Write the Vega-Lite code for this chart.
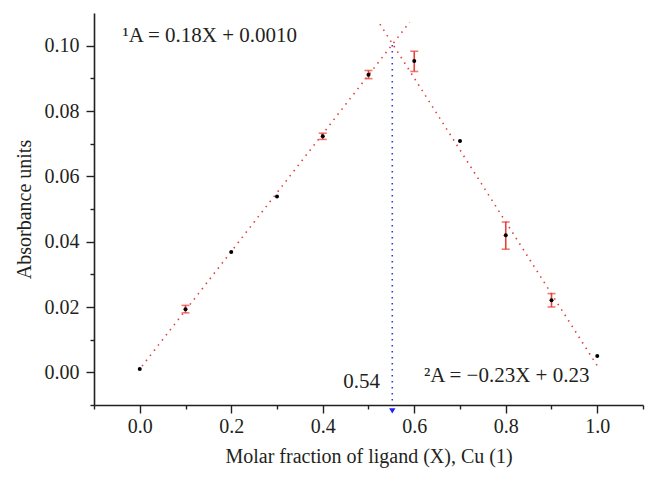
{
  "$schema": "https://vega.github.io/schema/vega-lite/v6.json",
  "width": 549,
  "height": 392,
  "autosize": "none",
  "padding": {"left": 94, "top": 13, "right": 15, "bottom": 75},
  "background": "white",
  "config": {
    "view": {"stroke": null},
    "font": "Liberation Serif",
    "axis": {
      "labelFont": "Liberation Serif",
      "titleFont": "Liberation Serif",
      "labelFontSize": 20,
      "titleFontSize": 20,
      "titleFontWeight": "normal",
      "labelColor": "#231f20",
      "titleColor": "#231f20",
      "domainColor": "#231f20",
      "tickColor": "#231f20",
      "domainWidth": 1.6,
      "tickWidth": 1.4,
      "grid": false
    }
  },
  "datasets": {
    "points": [
      {"x": 0.0, "y": 0.001},
      {"x": 0.1, "y": 0.0193},
      {"x": 0.2, "y": 0.0368},
      {"x": 0.3, "y": 0.0538},
      {"x": 0.4, "y": 0.0723},
      {"x": 0.5, "y": 0.0911},
      {"x": 0.6, "y": 0.0953},
      {"x": 0.7, "y": 0.0708},
      {"x": 0.8, "y": 0.042},
      {"x": 0.9, "y": 0.0221},
      {"x": 1.0, "y": 0.005}
    ],
    "errors": [
      {"x": 0.1, "y": 0.0182, "hi": 0.0205},
      {"x": 0.4, "y": 0.0713, "hi": 0.0732},
      {"x": 0.5, "y": 0.0899, "hi": 0.0924},
      {"x": 0.6, "y": 0.0921, "hi": 0.0983},
      {"x": 0.8, "y": 0.0377, "hi": 0.046},
      {"x": 0.9, "y": 0.02, "hi": 0.0241}
    ],
    "fits": [
      {"fit": "1", "x": 0.005, "y": 0.0019},
      {"fit": "1", "x": 0.59, "y": 0.1072},
      {"fit": "2", "x": 0.525, "y": 0.1066},
      {"fit": "2", "x": 1.005, "y": 0.0009}
    ],
    "marker": [
      {"x": 0.552, "y": 0.1002, "ybot": -0.01}
    ],
    "arrow": [
      {"x": 0.552, "y": -0.0118}
    ],
    "labels": [
      {"x": 0.153, "y": 0.101, "text": "¹A = 0.18X + 0.0010"},
      {"x": 0.485, "y": -0.0048, "text": "0.54"},
      {"x": 0.802, "y": -0.0029, "text": "²A = −0.23X + 0.23"}
    ]
  },
  "encoding": {
    "x": {
      "field": "x",
      "type": "quantitative",
      "scale": {"domain": [-0.1, 1.1], "nice": false, "zero": false},
      "axis": {
        "title": "Molar fraction of ligand (X), Cu (1)",
        "values": [-0.1, 0, 0.1, 0.2, 0.3, 0.4, 0.5, 0.6, 0.7, 0.8, 0.9, 1.0, 1.1],
        "labelExpr": "abs(round(datum.value*10)) % 2 == 1 ? '' : format(datum.value, '.1f')",
        "tickSize": {"condition": {"test": "abs(round(datum.value*10)) % 2 == 1", "value": 4}, "value": 8},
        "labelPadding": 3,
        "titlePadding": 10,
        "orient": "bottom"
      }
    },
    "y": {
      "field": "y",
      "type": "quantitative",
      "scale": {"domain": [-0.01, 0.11], "nice": false, "zero": false},
      "axis": {
        "title": "Absorbance units",
        "values": [-0.01, 0, 0.01, 0.02, 0.03, 0.04, 0.05, 0.06, 0.07, 0.08, 0.09, 0.1],
        "labelExpr": "abs(round(datum.value*100)) % 2 == 1 ? '' : format(datum.value, '.2f')",
        "tickSize": {"condition": {"test": "abs(round(datum.value*100)) % 2 == 1", "value": 4}, "value": 8},
        "labelPadding": 7,
        "titlePadding": 10,
        "orient": "left"
      }
    }
  },
  "layer": [
    {
      "data": {"name": "fits"},
      "mark": {"type": "line", "color": "#e0403c", "strokeWidth": 1.6, "strokeDash": [1.5, 5], "strokeCap": "butt"},
      "encoding": {"detail": {"field": "fit"}}
    },
    {
      "data": {"name": "marker"},
      "mark": {"type": "rule", "color": "#3838d8", "strokeWidth": 1.6, "strokeDash": [1.5, 4.5]},
      "encoding": {"y2": {"field": "ybot"}}
    },
    {
      "data": {"name": "arrow"},
      "mark": {"type": "point", "shape": "triangle-down", "filled": true, "color": "#1f1fff", "size": 40, "opacity": 1}
    },
    {
      "data": {"name": "errors"},
      "mark": {"type": "errorbar", "color": "#e8403a", "thickness": 1.6, "ticks": {"size": 8, "thickness": 1.6, "color": "#e8403a"}},
      "encoding": {"y2": {"field": "hi"}}
    },
    {
      "data": {"name": "points"},
      "mark": {"type": "circle", "color": "#000000", "size": 16, "opacity": 1}
    },
    {
      "data": {"name": "labels"},
      "mark": {"type": "text", "font": "Liberation Serif", "fontSize": 21, "color": "#231f20", "baseline": "alphabetic", "align": "center"},
      "encoding": {"text": {"field": "text"}}
    }
  ]
}
